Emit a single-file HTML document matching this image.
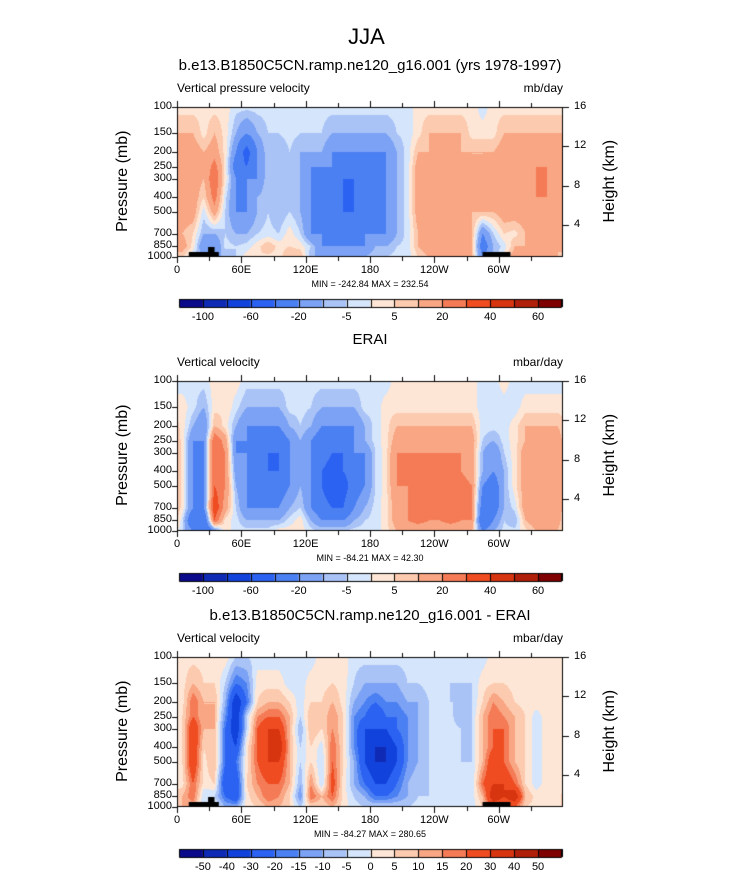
<!DOCTYPE html>
<html><head><meta charset="utf-8">
<style>
html,body{margin:0;background:#fff;overflow:hidden;width:733px;height:873px;}
#wrap{position:relative;width:733px;height:873px;overflow:hidden;font-family:"Liberation Sans",sans-serif;color:#000;}
.t{position:absolute;white-space:nowrap;line-height:1.15;}
canvas{position:absolute;left:0;top:0;}
</style></head><body>
<div id="wrap">
<canvas id="cv" width="733" height="873"></canvas>
<div class="t" style="left:0;width:733px;text-align:center;top:24px;font-size:22px;">JJA</div>
</div>
<script>
// ----- data -----
const lons = [5,15,25,35,45,55,65,75,85,95,105,115,125,135,145,155,165,175,185,195,205,215,225,235,245,255,265,275,285,295,305,315,325,335,345,355];
const levels = [100,150,200,250,300,400,500,700,850,1000];
const pressTicks = [100,150,200,250,300,400,500,700,850,1000];
const heightTicks = [4,8,12,16];
const lonTickLabels = ["0","60E","120E","180","120W","60W"];
const levelsAB = [-100,-80,-60,-40,-20,-10,-5,0,5,10,20,30,40,50,60];
const labelsAB = ["-100","","-60","","-20","","-5","","5","","20","","40","","60"];
const levelsC = [-50,-40,-30,-20,-15,-10,-5,0,5,10,15,20,30,40,50];
const labelsC = ["-50","-40","-30","-20","-15","-10","-5","0","5","10","15","20","30","40","50"];
const colors = ["#0a0a8a","#0f2bb5","#1242dc","#2b62f2","#4b80f2","#7ba2f4","#a9c3f7","#d5e5fb","#fee6d6","#fccaaf","#f8a684","#f47b56","#ef4c22","#d73410","#b01f0a","#7f0000"];
const model = [
[3,10,15,15,15,15,15,10,15,5],[3,10,15,15,15,15,15,5,3,-5],[3,3,10,10,10,5,-3,-10,-20,-10],[3,10,15,25,30,25,15,-10,-20,-10],
[3,3,3,3,3,-3,-5,-5,-3,-10],[-3,-10,-20,-30,-20,-20,-20,-10,-5,-5],[-3,-20,-50,-40,-20,-20,-20,-10,-3,3],[-3,-10,-20,-20,-20,-10,-10,-5,3,5],
[-3,-5,-5,-5,-5,-5,-5,-3,10,3],[-3,-5,-10,-10,-10,-10,-10,-5,3,3],[-3,-3,-5,-5,-5,-5,-5,3,5,10],[-3,-5,-10,-10,-10,-10,-10,-5,3,10],
[-3,-5,-10,-20,-20,-20,-20,-20,-5,-10],[-3,-5,-10,-20,-20,-20,-20,-20,-20,-10],[-3,-10,-20,-20,-30,-30,-30,-20,-20,-10],[-3,-10,-20,-30,-40,-40,-40,-20,-20,-10],
[-3,-10,-20,-30,-40,-40,-40,-20,-20,-10],[-3,-10,-20,-30,-30,-40,-30,-20,-20,-10],[-3,-10,-20,-20,-20,-20,-20,-20,-10,-5],[-3,-10,-20,-20,-20,-20,-20,-20,-10,-5],
[-3,-5,-10,-10,-10,-10,-10,-10,-5,-3],[-3,-3,-3,-3,-3,-3,-3,-3,-3,-3],[3,3,10,15,15,15,15,10,10,5],[3,10,10,15,15,15,15,10,15,10],
[3,10,10,15,15,15,15,15,20,10],[3,10,10,15,15,15,15,15,15,10],[3,10,10,15,15,15,15,10,10,10],[3,3,10,10,10,10,10,10,10,10],
[-3,3,10,10,10,10,10,-20,-30,-20],[3,3,10,15,15,10,10,-5,-10,-10],[3,10,15,20,20,20,15,5,-3,3],[3,10,15,15,15,15,15,3,10,15],
[3,10,15,15,15,15,15,10,10,10],[3,10,15,20,20,20,15,10,15,10],[3,10,15,20,20,20,20,10,15,10],[3,10,10,15,15,15,15,10,10,10]];
const erai = [
[-3,3,3,3,3,3,3,3,-3,-5],[-3,-3,-10,-20,-20,-20,-20,-20,-40,-20],[-3,-10,-20,-20,-20,-20,-20,-20,-40,-40],[3,3,10,30,30,30,30,40,30,-20],
[3,5,3,15,20,20,20,15,3,3],[3,-3,-10,-20,-20,-15,-10,-5,-3,-3],[-3,-10,-20,-20,-20,-20,-20,-20,-10,-3],[-3,-10,-20,-20,-20,-30,-20,-20,-10,-3],
[-3,-10,-20,-30,-40,-40,-30,-20,-10,-3],[-3,-10,-20,-30,-40,-40,-30,-20,-10,3],[-3,-3,-10,-20,-20,-20,-20,-10,-3,3],[-3,-3,-5,-10,-10,-10,-10,-5,3,3],
[-3,-5,-10,-20,-20,-20,-20,-20,-10,-3],[-3,-10,-20,-30,-30,-40,-40,-30,-20,-5],[-3,-10,-20,-30,-40,-50,-60,-40,-20,-5],[-3,-10,-20,-30,-40,-40,-50,-40,-20,-5],
[-3,-10,-20,-20,-20,-30,-30,-20,-10,-3],[-3,-3,-10,-10,-20,-20,-20,-10,-5,-3],[-3,-3,-3,-3,-5,-5,-5,-3,-3,-3],[-3,3,3,3,3,3,3,3,3,3],
[3,3,10,15,20,20,20,15,15,10],[3,3,10,15,20,20,20,20,20,10],[3,3,10,15,20,25,20,20,25,10],[3,3,10,15,20,25,20,25,20,10],
[3,3,10,15,20,20,20,25,20,10],[3,3,10,15,20,20,25,25,25,10],[3,3,10,15,20,20,25,25,20,10],[3,3,10,15,15,15,20,20,20,10],
[-3,-3,-3,-5,-10,-10,-20,-30,-40,-20],[-3,-3,-3,-10,-20,-20,-30,-30,-20,-10],[3,-3,-3,-3,-5,-10,-10,-10,-5,-3],[-3,-3,3,3,3,3,3,-3,-10,-3],
[-3,3,10,10,15,15,15,15,10,3],[-3,3,10,15,15,15,15,15,15,10],[-3,3,10,15,15,15,15,20,20,10],[-3,3,10,15,15,15,15,15,15,10]];
const diff = [
[3,3,3,5,5,5,5,3,10,10],[3,10,20,20,30,30,30,20,20,10],[3,5,10,10,10,5,3,3,-5,-5],[3,5,10,10,10,10,10,5,-5,3],
[3,-5,-10,-15,-20,-20,-20,-30,-20,-10],[-5,-20,-40,-40,-40,-30,-20,-30,-30,-10],[-5,-15,-20,-5,-5,3,3,5,3,3],[-3,3,5,15,20,20,20,15,10,5],
[-3,3,10,20,30,30,30,20,20,10],[-3,3,10,20,30,40,30,20,15,10],[-3,-3,5,10,10,10,10,10,5,5],[-3,-3,-3,-5,-10,-5,-5,-10,-15,-5],
[-3,3,5,10,10,5,5,15,20,5],[3,3,5,5,5,-3,-5,-5,10,5],[3,5,10,15,15,20,20,25,20,10],[3,3,3,5,5,5,5,3,3,3],
[-3,-5,-10,-15,-15,-15,-10,-10,-5,-3],[-3,-10,-15,-20,-30,-30,-30,-20,-10,-5],[-3,-10,-20,-30,-30,-40,-40,-30,-20,-5],[-3,-10,-15,-20,-30,-40,-40,-30,-20,-5],
[-3,-10,-15,-20,-20,-30,-30,-20,-15,-5],[-3,-5,-10,-15,-15,-15,-15,-10,-10,-5],[-3,-5,-10,-10,-10,-10,-10,-5,-5,-3],[-3,-3,-5,-5,-5,-5,-5,-5,-5,-3],
[-3,-3,-5,-3,-3,-3,-3,-3,-3,-3],[-3,-5,-5,-3,-3,-3,-3,-3,-3,-3],[-3,-5,-5,-10,-5,-5,-5,-3,-3,-3],[-3,-5,-5,-5,-5,-5,-5,-5,-3,-3],
[-3,3,5,10,10,10,10,20,10,5],[3,5,15,20,20,20,30,30,40,20],[3,5,10,15,20,20,20,30,30,20],[3,3,5,10,10,10,10,20,40,20],
[3,3,3,5,5,5,5,5,10,5],[3,3,3,-3,-3,-3,-3,-3,3,3],[3,3,3,3,3,3,3,3,3,3],[3,3,5,5,3,3,3,3,3,3]];

// ----- layout -----
const X0=177, X1=563, PH=150;
const panels=[
 {top:107,data:model,lev:levelsAB,lab:labelsAB,title:"b.e13.B1850C5CN.ramp.ne120_g16.001 (yrs 1978-1997)",left:"Vertical pressure velocity",right:"mb/day",mm:"MIN = -242.84  MAX = 232.54",topo:true},
 {top:381,data:erai,lev:levelsAB,lab:labelsAB,title:"ERAI",left:"Vertical velocity",right:"mbar/day",mm:"MIN = -84.21  MAX = 42.30",topo:false},
 {top:657,data:diff,lev:levelsC,lab:labelsC,title:"b.e13.B1850C5CN.ramp.ne120_g16.001 - ERAI",left:"Vertical velocity",right:"mbar/day",mm:"MIN = -84.27  MAX = 280.65",topo:true}];
const xOf=l=>X0+(X1-X0)*l/360;
const yOf=(p,top)=>top+PH*Math.log10(p/100);
const hOf=(h,top)=>top+PH*(1-(h-0.7)/15.25)+0.5;
const cv=document.getElementById('cv'), ctx=cv.getContext('2d');
const wrap=document.getElementById('wrap');
function txt(name,s,x,y,size,align,extra,w){
 const d=document.createElement('div');d.className='t';
 
 
 d.textContent=s;d.style.fontSize=size+'px';d.style.top=y+'px';
 const W=w||400;
 if(align==='c'){d.style.left=(x-W/2)+'px';d.style.width=W+'px';d.style.textAlign='center';}
 else if(align==='r'){d.style.left=(x-200)+'px';d.style.width='200px';d.style.textAlign='right';}
 else d.style.left=x+'px';
 if(extra)Object.assign(d.style,extra);
 wrap.appendChild(d);return d;}
function colorFor(v,lev){let i=0;
 while(i<lev.length&&(v<0?v>lev[i]+1e-9:v>=lev[i]))i++;
 return colors[i];}
function sample(data,lon,yy,top){
 let f=(lon-5)/10; let i0=Math.floor(f); let t=f-i0; const n=data.length;
 const a=((i0%n)+n)%n, b=(a+1)%n;
 const ys=levels.map(p=>yOf(p,top));
 let k=0; while(k<ys.length-2&&yy>ys[k+1])k++;
 let u=(yy-ys[k])/(ys[k+1]-ys[k]); u=Math.max(0,Math.min(1,u));
 const va=data[a][k]*(1-u)+data[a][k+1]*u, vb=data[b][k]*(1-u)+data[b][k+1]*u;
 return va*(1-t)+vb*t;}
panels.forEach((P)=>{
 const top=P.top;
 for(let px=X0;px<X1;px++){
  for(let py=top;py<top+PH;py++){
   const lon=(px+0.5-X0)/(X1-X0)*360;
   ctx.fillStyle=colorFor(sample(P.data,lon,py+0.5,top),P.lev);
   ctx.fillRect(px,py,1,1);}}
 ctx.fillStyle='#000';
 if(P.topo){
  ctx.fillRect(xOf(11),top+PH-5,xOf(39)-xOf(11),5);
  ctx.fillRect(xOf(29),top+PH-10,xOf(35)-xOf(29),10);
  ctx.fillRect(xOf(285),top+PH-5,xOf(311)-xOf(285),5);}
 ctx.strokeStyle='#000';ctx.lineWidth=1;
 ctx.strokeRect(X0+0.5,top+0.5,X1-X0-1,PH-1);
 ctx.beginPath();
 for(let l=0;l<360;l+=30){const x=Math.round(xOf(l))+0.5,len=l%60===0?6:4;
  ctx.moveTo(x,top);ctx.lineTo(x,top-len);ctx.moveTo(x,top+PH);ctx.lineTo(x,top+PH+len);}
 pressTicks.forEach(p=>{const y=Math.round(yOf(p,top))+0.5;ctx.moveTo(X0,y);ctx.lineTo(X0-5,y);});
 heightTicks.forEach(h=>{const y=Math.round(hOf(h,top))+0.5;ctx.moveTo(X1,y);ctx.lineTo(X1+6,y);});
 ctx.stroke();
 pressTicks.forEach(p=>txt('pressure-tick-label',String(p),172,yOf(p,top)-7,11,'r'));
 heightTicks.forEach(h=>txt('height-tick-label',String(h),574,hOf(h,top)-7,11,'l'));
 lonTickLabels.forEach((s,i)=>txt('longitude-tick-label',s,xOf(i*60),top+PH+7,11,'c',null,80));
 txt('min-max-label',P.mm,370,top+PH+22,9,'c');
 txt('panel-title',P.title,370,top-50,15,'c',null,500);
 txt('variable-label',P.left,X0,top-25,12,'l');
 txt('units-label',P.right,X1,top-25,12,'r');
 txt('y-axis-title','Pressure (mb)',123,top+PH/2-10,16,'c',{transform:'rotate(-90deg)'},160);
 txt('y2-axis-title','Height (km)',610,top+PH/2-10,16,'c',{transform:'rotate(-90deg)'},160);
 const cy=top+192, cw=(X1-1-179)/16;
 for(let i=0;i<16;i++){ctx.fillStyle=colors[i];ctx.fillRect(179+i*cw,cy,cw,8);}
 ctx.strokeStyle='#000';ctx.beginPath();
 for(let i=0;i<=16;i++){const x=Math.round(179+i*cw)+0.5;ctx.moveTo(x,cy);ctx.lineTo(x,cy+8);}
 ctx.rect(179.5,cy+0.5,16*cw-1,8);ctx.stroke();
 P.lab.forEach((s,i)=>{if(s)txt('colorbar-label',s,179+(i+1)*cw,cy+12,11,'c',null,60);});
});
</script>
</body></html>
